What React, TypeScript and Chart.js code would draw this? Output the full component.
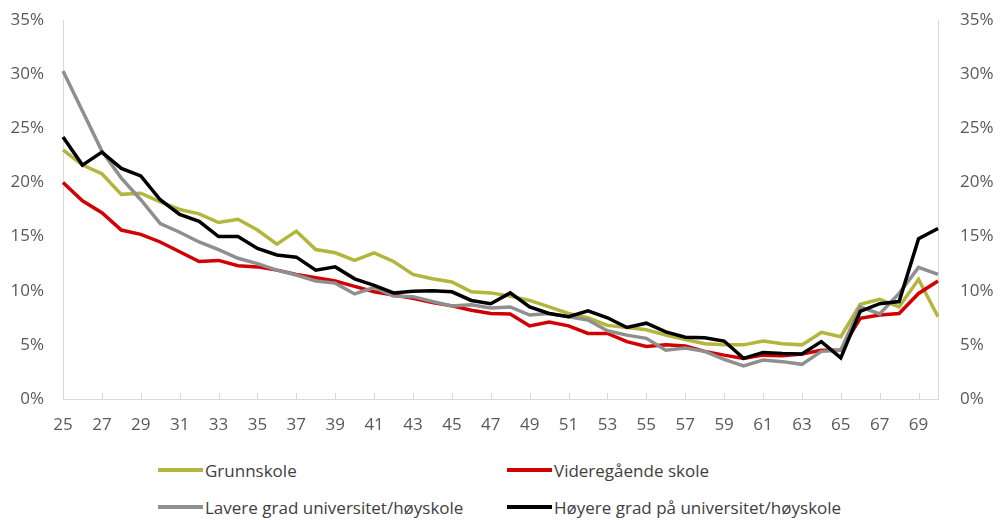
import React, { useEffect, useRef } from "react";
import { Chart, registerables } from "chart.js";

Chart.register(...registerables);

const ages = ["25","26","27","28","29","30","31","32","33","34","35","36","37","38","39","40","41","42","43","44","45","46","47","48","49","50","51","52","53","54","55","56","57","58","59","60","61","62","63","64","65","66","67","68","69","70"];

const grunnskole = [23.0,21.6,20.8,18.9,19.0,18.2,17.5,17.1,16.3,16.6,15.6,14.3,15.5,13.8,13.5,12.8,13.5,12.7,11.5,11.1,10.8,9.9,9.8,9.5,9.1,8.5,7.9,7.5,6.8,6.6,6.4,5.9,5.5,5.1,5.0,5.0,5.35,5.1,5.0,6.15,5.75,8.75,9.2,8.5,11.05,7.6];
const videregaende = [20.0,18.3,17.2,15.6,15.2,14.5,13.6,12.7,12.8,12.3,12.2,11.9,11.5,11.2,10.9,10.4,9.9,9.6,9.3,8.9,8.6,8.2,7.9,7.85,6.75,7.1,6.75,6.05,6.05,5.3,4.85,5.0,4.9,4.4,4.05,3.75,4.05,4.0,4.15,4.5,4.5,7.45,7.75,7.9,9.75,10.9];
const lavere = [30.3,26.6,22.9,20.4,18.4,16.2,15.4,14.5,13.8,13.0,12.5,11.9,11.45,10.9,10.7,9.7,10.3,9.5,9.45,9.0,8.6,8.7,8.4,8.5,7.75,7.9,7.6,7.3,6.3,5.9,5.6,4.5,4.7,4.4,3.65,3.05,3.6,3.45,3.2,4.4,4.5,8.5,7.85,9.75,12.15,11.5];
const hoyere = [24.2,21.6,22.8,21.3,20.6,18.4,17.05,16.4,15.0,15.0,13.9,13.3,13.1,11.9,12.2,11.1,10.5,9.8,9.95,10.0,9.9,9.1,8.8,9.8,8.5,7.9,7.6,8.15,7.5,6.6,7.0,6.2,5.7,5.65,5.35,3.75,4.3,4.2,4.15,5.3,3.8,8.1,8.8,9.0,14.8,15.75];

const seriesNames = ["Grunnskole", "Videregående skole", "Lavere grad universitet/høyskole", "Høyere grad på universitet/høyskole"];
const seriesColors = ["#b3b53c", "#d20000", "#8f8f8f", "#000000"];

const FONT = "'Open Sans', sans-serif";
const TICK_COLOR = "#595959";
const AXIS_COLOR = "#d9d9d9";

const innerTicks = {
  id: "innerTicks",
  afterDatasetsDraw(chart: any) {
    const x = chart.scales.x;
    const area = chart.chartArea;
    const ctx = chart.ctx;
    ctx.save();
    ctx.strokeStyle = AXIS_COLOR;
    ctx.lineWidth = 1;
    ages.forEach((_, i) => {
      if (i % 2 !== 0 || i === 0) return;
      const px = Math.round(x.getPixelForValue(i)) + 0.5;
      ctx.beginPath();
      ctx.moveTo(px, area.bottom);
      ctx.lineTo(px, area.bottom - 6);
      ctx.stroke();
    });
    ctx.restore();
  },
};

export default function App() {
  const ref = useRef<HTMLCanvasElement | null>(null);

  useEffect(() => {
    document.body.style.margin = "0";
    if (!ref.current) return;
    const data = [grunnskole, videregaende, lavere, hoyere];
    const yFit = (w: number) => (s: any) => {
      s.width = w;
      s.paddingTop = 0;
      s.paddingBottom = 0;
    };
    const chart = new Chart(ref.current, {
      type: "line",
      data: {
        labels: ages,
        datasets: data.map((d, i) => ({
          label: seriesNames[i],
          data: d,
          borderColor: seriesColors[i],
          backgroundColor: seriesColors[i],
          borderWidth: 3.5,
          pointRadius: 0,
          tension: 0,
          fill: false,
          order: 4 - i,
          yAxisID: "y",
        })),
      },
      options: {
        animation: false,
        responsive: false,
        maintainAspectRatio: false,
        layout: { padding: { top: 20, bottom: 0, left: 0, right: 0 } },
        plugins: { legend: { display: false }, tooltip: { enabled: false } },
        scales: {
          x: {
            type: "category",
            offset: false,
            grid: { display: false, drawTicks: false },
            border: { display: true, color: AXIS_COLOR, width: 1 },
            ticks: {
              autoSkip: false,
              maxRotation: 0,
              padding: 16,
              color: TICK_COLOR,
              font: { family: FONT, size: 17 },
              callback: (_v: any, i: number) => (i % 2 === 0 ? ages[i] : ""),
            },
            afterFit: (s: any) => { s.height = 41; s.paddingLeft = 0; s.paddingRight = 0; },
          },
          y: {
            position: "left",
            min: 0,
            max: 35,
            grid: { display: false, drawTicks: false },
            border: { display: true, color: AXIS_COLOR, width: 1 },
            ticks: {
              stepSize: 5,
              padding: 19,
              color: TICK_COLOR,
              font: { family: FONT, size: 17 },
              callback: (v: any) => v + "%",
            },
            afterFit: yFit(63),
          },
          y2: {
            position: "right",
            min: 0,
            max: 35,
            grid: { display: false, drawTicks: false },
            border: { display: true, color: AXIS_COLOR, width: 1 },
            ticks: {
              stepSize: 5,
              padding: 22,
              color: TICK_COLOR,
              font: { family: FONT, size: 17 },
              callback: (v: any) => v + "%",
            },
            afterFit: yFit(65),
          },
        },
      },
      plugins: [innerTicks],
    } as any);
    return () => chart.destroy();
  }, []);

  const legendItems = [
    { i: 0, left: 158, top: 470 },
    { i: 1, left: 507, top: 470 },
    { i: 2, left: 158, top: 507 },
    { i: 3, left: 507, top: 507 },
  ];

  return (
    <div style={{ position: "relative", width: 1003, height: 520, background: "#fff", fontFamily: FONT }}>
      <canvas ref={ref} width={1003} height={440} style={{ display: "block", width: 1003, height: 440 }} />
      {legendItems.map((it) => (
        <div
          key={it.i}
          style={{
            position: "absolute",
            left: it.left,
            top: it.top - 12,
            height: 24,
            display: "flex",
            alignItems: "center",
            whiteSpace: "nowrap",
          }}
        >
          <span style={{ display: "inline-block", width: 45, height: 3.5, background: seriesColors[it.i], marginRight: 2 }} />
          <span style={{ fontSize: 17, color: "#404040" }}>{seriesNames[it.i]}</span>
        </div>
      ))}
    </div>
  );
}
